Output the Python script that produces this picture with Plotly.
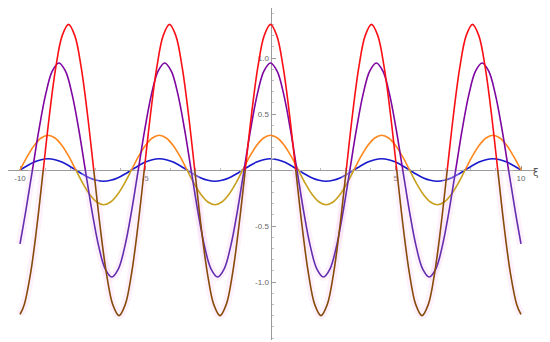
import plotly.graph_objects as go

# ---------------- data ----------------
xi_red = [-10, -9.828, -9.576, -9.324, -9.072, -8.82, -8.568, -8.316, -8.064,
          -7.812, -7.56, -7.308, -7.056, -6.804, -6.552, -6.3, -6.048,
          -5.796, -5.544, -5.292, -5.04, -4.788, -4.536, -4.284, -4.032,
          -3.78, -3.528, -3.276, -3.024, -2.772, -2.52, -2.268, -2.016,
          -1.764, -1.512, -1.26, -1.008, -0.756, -0.504, -0.252, 0,
          0.252, 0.504, 0.756, 1.008, 1.26, 1.512, 1.764, 2.016,
          2.268, 2.52, 2.772, 3.024, 3.276, 3.528, 3.78, 4.032,
          4.284, 4.536, 4.788, 5.04, 5.292, 5.544, 5.796, 6.048,
          6.3, 6.552, 6.804, 7.056, 7.308, 7.56, 7.812, 8.064,
          8.316, 8.568, 8.82, 9.072, 9.324, 9.576, 9.828, 10]
red_vals = [-1.29, -1.2, -0.92, -0.5, 0, 0.5, 0.92, 1.2, 1.3,
            1.2, 0.92, 0.5, 0, -0.5, -0.92, -1.2, -1.3,
            -1.2, -0.92, -0.5, 0, 0.5, 0.92, 1.2, 1.3,
            1.2, 0.92, 0.5, 0, -0.5, -0.92, -1.2, -1.3,
            -1.2, -0.92, -0.5, 0, 0.5, 0.92, 1.2, 1.3,
            1.2, 0.92, 0.5, 0, -0.5, -0.92, -1.2, -1.3,
            -1.2, -0.92, -0.5, 0, 0.5, 0.92, 1.2, 1.3,
            1.2, 0.92, 0.5, 0, -0.5, -0.92, -1.2, -1.3,
            -1.2, -0.92, -0.5, 0, 0.5, 0.92, 1.2, 1.3,
            1.2, 0.92, 0.5, 0, -0.5, -0.92, -1.2, -1.29]

xi_purple = [-10, -9.768, -9.504, -9.24, -8.976, -8.712, -8.448,
             -8.184, -7.92, -7.656, -7.392, -7.128, -6.864, -6.6, -6.336,
             -6.072, -5.808, -5.544, -5.28, -5.016, -4.752, -4.488, -4.224,
             -3.96, -3.696, -3.432, -3.168, -2.904, -2.64, -2.376, -2.112,
             -1.848, -1.584, -1.32, -1.056, -0.792, -0.528, -0.264, 0,
             0.264, 0.528, 0.792, 1.056, 1.32, 1.584, 1.848, 2.112,
             2.376, 2.64, 2.904, 3.168, 3.432, 3.696, 3.96, 4.224,
             4.488, 4.752, 5.016, 5.28, 5.544, 5.808, 6.072, 6.336,
             6.6, 6.864, 7.128, 7.392, 7.656, 7.92, 8.184, 8.448,
             8.712, 8.976, 9.24, 9.504, 9.768, 10]
purple_vals = [-0.66, -0.365, 0, 0.365, 0.675, 0.882, 0.955,
               0.882, 0.675, 0.365, 0, -0.365, -0.675, -0.882, -0.955,
               -0.882, -0.675, -0.365, 0, 0.365, 0.675, 0.882, 0.955,
               0.882, 0.675, 0.365, 0, -0.365, -0.675, -0.882, -0.955,
               -0.882, -0.675, -0.365, 0, 0.365, 0.675, 0.882, 0.955,
               0.882, 0.675, 0.365, 0, -0.365, -0.675, -0.882, -0.955,
               -0.882, -0.675, -0.365, 0, 0.365, 0.675, 0.882, 0.955,
               0.882, 0.675, 0.365, 0, -0.365, -0.675, -0.882, -0.955,
               -0.882, -0.675, -0.365, 0, 0.365, 0.675, 0.882, 0.955,
               0.882, 0.675, 0.365, 0, -0.365, -0.66]

xi_wave = [-10, -9.7125, -9.435, -9.1575, -8.88,
           -8.6025, -8.325, -8.0475, -7.77, -7.4925, -7.215, -6.9375, -6.66,
           -6.3825, -6.105, -5.8275, -5.55, -5.2725, -4.995, -4.7175, -4.44,
           -4.1625, -3.885, -3.6075, -3.33, -3.0525, -2.775, -2.4975, -2.22,
           -1.9425, -1.665, -1.3875, -1.11, -0.8325, -0.555, -0.2775, 0,
           0.2775, 0.555, 0.8325, 1.11, 1.3875, 1.665, 1.9425, 2.22,
           2.4975, 2.775, 3.0525, 3.33, 3.6075, 3.885, 4.1625, 4.44,
           4.7175, 4.995, 5.2725, 5.55, 5.8275, 6.105, 6.3825, 6.66,
           6.9375, 7.215, 7.4925, 7.77, 8.0475, 8.325, 8.6025, 8.88,
           9.1575, 9.435, 9.7125, 10]
orange_vals = [0, 0.119, 0.219, 0.286, 0.31,
               0.286, 0.219, 0.119, 0, -0.119, -0.219, -0.286, -0.31,
               -0.286, -0.219, -0.119, 0, 0.119, 0.219, 0.286, 0.31,
               0.286, 0.219, 0.119, 0, -0.119, -0.219, -0.286, -0.31,
               -0.286, -0.219, -0.119, 0, 0.119, 0.219, 0.286, 0.31,
               0.286, 0.219, 0.119, 0, -0.119, -0.219, -0.286, -0.31,
               -0.286, -0.219, -0.119, 0, 0.119, 0.219, 0.286, 0.31,
               0.286, 0.219, 0.119, 0, -0.119, -0.219, -0.286, -0.31,
               -0.286, -0.219, -0.119, 0, 0.119, 0.219, 0.286, 0.31,
               0.286, 0.219, 0.119, 0]
blue_vals = [0, 0.038, 0.071, 0.092, 0.1,
             0.092, 0.071, 0.038, 0, -0.038, -0.071, -0.092, -0.1,
             -0.092, -0.071, -0.038, 0, 0.038, 0.071, 0.092, 0.1,
             0.092, 0.071, 0.038, 0, -0.038, -0.071, -0.092, -0.1,
             -0.092, -0.071, -0.038, 0, 0.038, 0.071, 0.092, 0.1,
             0.092, 0.071, 0.038, 0, -0.038, -0.071, -0.092, -0.1,
             -0.092, -0.071, -0.038, 0, 0.038, 0.071, 0.092, 0.1,
             0.092, 0.071, 0.038, 0, -0.038, -0.071, -0.092, -0.1,
             -0.092, -0.071, -0.038, 0, 0.038, 0.071, 0.092, 0.1,
             0.092, 0.071, 0.038, 0]

x_tickvals = [-10, -5, 5, 10]
x_ticktext = ["-10", "-5", "5", "10"]
y_tickvals = [-1.0, -0.5, 0.5, 1.0]
y_ticktext = ["-1.0", "-0.5", "0.5", "1.0"]

# ---------------- layout geometry ----------------
W, H = 550, 342
X0PX, XS = 270.5, 25.05      # pixel of xi=0, px per unit
Y0PX, YS = 170.0, 112.0      # pixel (from top) of y=0, px per unit
XL, XR = 8, 535              # x axis extent in px
YT, YB = 8, 340              # y axis extent in px (from top)

xrange_ = [(XL - X0PX) / XS, (XR - X0PX) / XS]
ytop = (Y0PX - YT) / YS
ybot = (Y0PX - YB) / YS
xdom = [XL / W, XR / W]
ydom = [(H - YB) / H, (H - YT) / H]
zero_frac = (H - Y0PX) / H
yaxis_pos = X0PX / W

fig = go.Figure()

def line(color, width=1.6):
    return dict(color=color, width=width, shape="spline", smoothing=1)

# faint pink halo along the lower parts
for xs, ys in ((xi_red, red_vals), (xi_purple, purple_vals)):
    fig.add_trace(go.Scatter(x=xs, y=ys, mode="lines", yaxis="y3",
                             line=line("rgba(250,210,245,0.32)", 8), hoverinfo="skip"))

# blue (same colour both halves)
fig.add_trace(go.Scatter(x=xi_wave, y=blue_vals, mode="lines", yaxis="y",
                         line=line("rgb(25,25,205)")))

# upper halves (clipped to y >= 0 by the y2 domain)
fig.add_trace(go.Scatter(x=xi_wave, y=orange_vals, mode="lines", yaxis="y2",
                         line=line("rgb(255,135,30)")))
fig.add_trace(go.Scatter(x=xi_purple, y=purple_vals, mode="lines", yaxis="y2",
                         line=line("rgb(125,5,160)")))
fig.add_trace(go.Scatter(x=xi_red, y=red_vals, mode="lines", yaxis="y2",
                         line=line("rgb(250,15,20)")))
# lower halves (clipped to y <= 0 by the y3 domain)
fig.add_trace(go.Scatter(x=xi_wave, y=orange_vals, mode="lines", yaxis="y3",
                         line=line("rgb(200,160,30)")))
fig.add_trace(go.Scatter(x=xi_purple, y=purple_vals, mode="lines", yaxis="y3",
                         line=line("rgb(100,45,175)")))
fig.add_trace(go.Scatter(x=xi_red, y=red_vals, mode="lines", yaxis="y3",
                         line=line("rgb(135,75,10)")))

axcol = "#9a9a9a"
tickfont = dict(family="Liberation Sans, Arial, sans-serif", size=8, color="#666")

fig.update_layout(
    width=W, height=H,
    margin=dict(l=0, r=0, t=0, b=0),
    paper_bgcolor="white", plot_bgcolor="rgba(0,0,0,0)",
    showlegend=False,
    xaxis=dict(domain=xdom, range=xrange_, anchor="free", position=zero_frac,
               showgrid=False, zeroline=False, showline=True, linecolor=axcol, linewidth=1,
               tickmode="array", tickvals=x_tickvals, ticktext=x_ticktext,
               ticks="inside", ticklen=4, tickcolor=axcol, tickfont=tickfont,
               minor=dict(tickmode="linear", tick0=0, dtick=1, ticks="inside",
                          ticklen=2, tickcolor="#bbb")),
    yaxis=dict(domain=ydom, range=[ybot, ytop], anchor="free", position=yaxis_pos,
               showgrid=False, zeroline=False, showline=True, linecolor=axcol, linewidth=1,
               tickmode="array", tickvals=y_tickvals, ticktext=y_ticktext,
               ticks="inside", ticklen=4, tickcolor=axcol, tickfont=tickfont,
               minor=dict(tickmode="linear", tick0=0, dtick=0.1, ticks="inside",
                          ticklen=2, tickcolor="#bbb")),
    yaxis2=dict(domain=[zero_frac, ydom[1]], range=[0, ytop], anchor="x", visible=False),
    yaxis3=dict(domain=[ydom[0], zero_frac], range=[ybot, 0], anchor="x", visible=False),
    annotations=[dict(text="ξ", xref="paper", yref="paper", x=541 / W, y=(H - 172) / H,
                      showarrow=False, font=dict(family="DejaVu Sans", size=10, color="#555"))],
)

fig.write_html("out.html", config={"displayModeBar": False},
               post_script="document.body.style.margin='0px';")
